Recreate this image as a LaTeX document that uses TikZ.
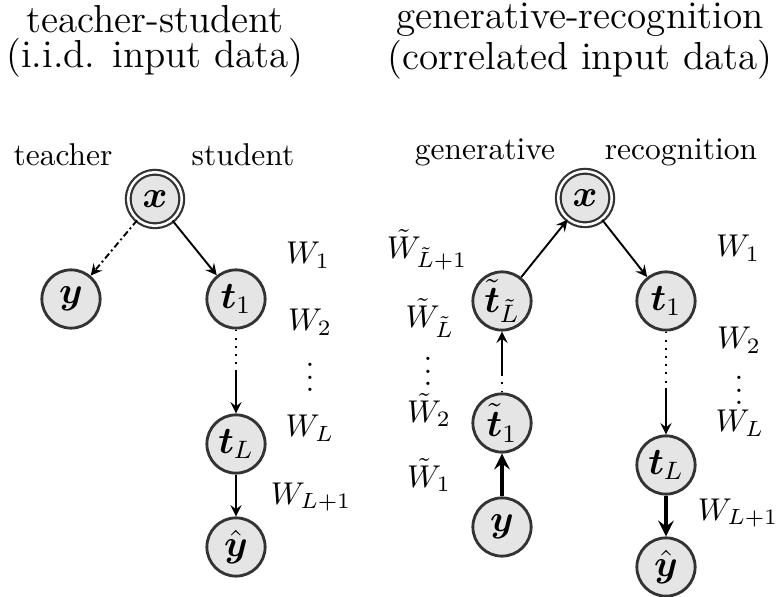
\documentclass[tikz,border=0pt]{standalone}
\usepackage{amsmath, amssymb}
\usepackage{tikz}
\usetikzlibrary{arrows}

\tikzset{
  unit/.style={circle, draw=black!80, fill=black!10, line width=0.9pt, minimum size=18.5pt, inner sep=0pt, font=\large},
  input/.style={unit, line width=0.7pt, double=white, double distance=0.8pt, minimum size=17pt},
  conn/.style={->, >=stealth, line width=0.6pt},
  thickconn/.style={conn, line width=1.2pt},
  title/.style={align=center, font=\fontsize{12.4}{11.2}\selectfont},
}

\begin{document}
\begin{tikzpicture}[x=0.3175pt, y=-0.3175pt]
  \useasboundingbox (0,0) rectangle (777,597);

  % teacher-student
  \node[title] (ttitle) at (155,41) {teacher-student\\(i.i.d. input data)};
  \node (lteacher) at (63,155) {teacher};
  \node (lstudent) at (243,155) {student};
  \node[input] (x1) at (155,199) {$\boldsymbol{x}$};
  \node[unit] (y1) at (71,299) {$\boldsymbol{y}$};
  \node[unit] (t1) at (236,299) {$\boldsymbol{t}_1$};
  \node[unit] (tL) at (236,444) {$\boldsymbol{t}_L$};
  \node[unit] (yh1) at (236,547) {$\hat{\boldsymbol{y}}$};
  \node (w1a) at (308,255) {$W_1$};
  \node (w2a) at (310,322) {$W_2$};
  \node (vda) at (310,368) {$\vdots$};
  \node (wLa) at (310,428) {$W_L$};
  \node (wL1a) at (311,497) {$W_{L+1}$};
  \draw[conn, dash pattern=on 2pt off 1pt on 0.6pt off 1pt] (x1) -- (y1);
  \draw[conn] (x1) -- (t1);
  \path (t1) -- coordinate[pos=0.5] (m1) (tL);
  \draw[dotted, line width=0.6pt] (t1) -- (m1);
  \draw[conn] (m1) -- (tL);
  \draw[conn] (tL) -- (yh1);

  % generative-recognition
  \node[title] (gtitle) at (580,41) {generative-recognition\\(correlated input data)};
  \node (lgen) at (485,152) {generative};
  \node (lrec) at (681,152) {recognition};
  \node[input] (x2) at (585,198) {$\boldsymbol{x}$};
  \node[unit] (tt) at (502,301) {$\tilde{\boldsymbol{t}}_{\tilde{L}}$};
  \node[unit] (tt1) at (502,423) {$\tilde{\boldsymbol{t}}_1$};
  \node[unit] (y2) at (502,527) {$\boldsymbol{y}$};
  \node[unit] (r1) at (666,301) {$\boldsymbol{t}_1$};
  \node[unit] (rL) at (666,465) {$\boldsymbol{t}_L$};
  \node[unit] (yh2) at (666,567) {$\hat{\boldsymbol{y}}$};
  \node (gw1) at (427,250) {$\tilde{W}_{\tilde{L}+1}$};
  \node (gw2) at (430,318) {$\tilde{W}_{\tilde{L}}$};
  \node (gvd) at (428,362) {$\vdots$};
  \node (gw3) at (429,410) {$\tilde{W}_2$};
  \node (gw4) at (429,475) {$\tilde{W}_1$};
  \node (rw1) at (738,248) {$W_1$};
  \node (rw2) at (739,340) {$W_2$};
  \node (rvd) at (739,381) {$\vdots$};
  \node (rwL) at (740,423) {$W_L$};
  \node (rwL1) at (738,513) {$W_{L+1}$};
  \draw[conn] (tt) -- (x2);
  \draw[conn] (x2) -- (r1);
  \draw[thickconn] (y2) -- (tt1);
  \path (tt1) -- coordinate[pos=0.3] (m2) (tt);
  \draw[dotted, line width=0.6pt] (tt1) -- (m2);
  \draw[conn] (m2) -- (tt);
  \path (r1) -- coordinate[pos=0.55] (m3) (rL);
  \draw[dotted, line width=0.6pt] (r1) -- (m3);
  \draw[conn] (m3) -- (rL);
  \draw[thickconn] (rL) -- (yh2);
\end{tikzpicture}
\end{document}
